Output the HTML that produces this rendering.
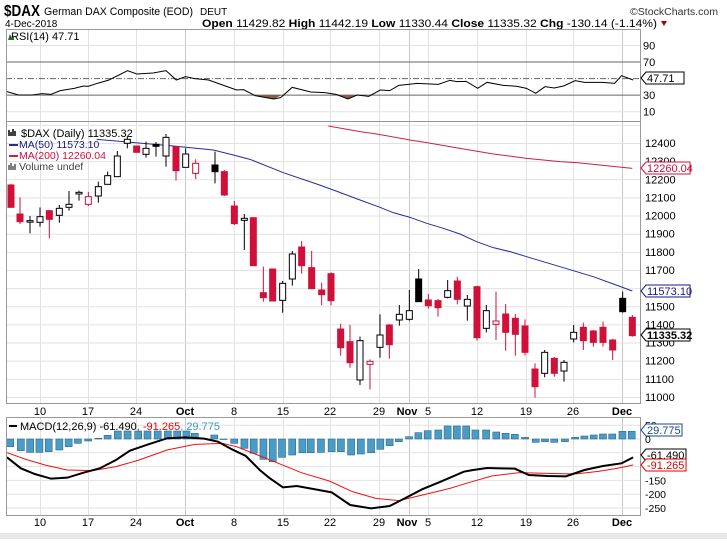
<!DOCTYPE html>
<html><head><meta charset="utf-8"><style>
body{margin:0;background:#fff;width:727px;height:539px;overflow:hidden;font-family:"Liberation Sans",sans-serif}
svg text{font-family:"Liberation Sans",sans-serif}
</style></head><body>
<svg id="s" width="727" height="539" xmlns="http://www.w3.org/2000/svg">
<rect x="0" y="533" width="727" height="6" fill="#e8e8e8"/>
<text x="4" y="16" font-size="16" font-weight="bold" textLength="36" lengthAdjust="spacingAndGlyphs">$DAX</text>
<text x="44" y="15" font-size="11" textLength="149" lengthAdjust="spacingAndGlyphs">German DAX Composite (EOD)</text>
<text x="200" y="15" font-size="10">DEUT</text>
<text x="630" y="15" font-size="10" fill="#333" textLength="88" lengthAdjust="spacingAndGlyphs">©StockCharts.com</text>
<text x="5" y="27" font-size="10">4-Dec-2018</text>
<text x="202" y="27" font-size="11" textLength="455" lengthAdjust="spacingAndGlyphs"><tspan font-weight="bold">Open</tspan> 11429.82 <tspan font-weight="bold">High</tspan> 11442.19 <tspan font-weight="bold">Low</tspan> 11330.44 <tspan font-weight="bold">Close</tspan> 11335.32 <tspan font-weight="bold">Chg</tspan> -130.14 (-1.14%)</text>
<path d="M661 21 l6 0 l-3 5z" fill="#a00"/>
<g id="g"></g>
</svg>
<script>
const NS="http://www.w3.org/2000/svg",g=document.getElementById('g');
function el(t,a,txt){const e=document.createElementNS(NS,t);for(const k in a)e.setAttribute(k,a[k]);if(txt!==undefined)e.textContent=txt;g.appendChild(e);return e;}
const L=6,R=640;
const dates=[[40,'10'],[88,'17'],[136,'24'],[185,'Oct',1],[234,'8'],[283,'15'],[330,'22'],[379,'29'],[409,'Nov',1],[428,'5'],[477,'12'],[526,'19'],[573,'26'],[622,'Dec',1]];
function vgrid(y1,y2){dates.forEach(d=>el('line',{x1:d[0]+.5,x2:d[0]+.5,y1:y1,y2:y2,stroke:d[2]?'#c8c8c8':'#e2e2e2'}));}
function xlabels(y){dates.forEach(d=>{let x=d[0];if(d[1]=='Nov')x=x-2;el('text',{x:x,y:y,'font-size':11,'text-anchor':'middle','font-weight':d[2]?'bold':'normal'},d[1]);});}
const rT=29,rB=121;const ry=v=>120-v*0.828;
vgrid(rT,rB);
[90,10].forEach(v=>el('line',{x1:L,x2:R,y1:ry(v),y2:ry(v),stroke:'#e2e2e2'}));
el('line',{x1:L,x2:R,y1:ry(70),y2:ry(70),stroke:'#666'});
el('line',{x1:L,x2:R,y1:ry(30),y2:ry(30),stroke:'#666'});
el('line',{x1:L,x2:R,y1:ry(50),y2:ry(50),stroke:'#666','stroke-dasharray':'6,2,1,2'});
const rsi=[[15,275],[40,285],[70,285],[90,281],[110,283],[130,272],[160,265],[180,258],[190,259],[210,250],[235,240],[275,212],[295,222],[330,219],[358,212],[380,240],[400,230],[420,236],[450,240],[480,255],[510,270],[525,269],[550,287],[590,297],[605,293],[630,262],[670,276],[700,278],[725,283],[750,297],[770,285],[795,289],[820,270],[840,272],[860,256],[900,250],[945,253],[970,241],[985,245],[1005,244],[1030,265],[1050,247],[1085,256],[1115,259],[1135,265],[1155,280],[1175,260],[1195,264],[1215,258],[1240,242],[1260,247],[1300,247],[1325,250],[1340,227],[1365,240]].map(p=>[p[0]/2.156,p[1]/3]);
el('path',{d:'M'+(545/2.156)+' 95 L'+(590/2.156)+' 99 L'+(608/2.156)+' 95Z M'+(723/2.156)+' 95 L'+(750/2.156)+' 99 L'+(772/2.156)+' 95Z',fill:'#8a5a50'});
el('polyline',{points:rsi.join(' '),fill:'none',stroke:'#000','stroke-width':1});
el('rect',{x:L+.5,y:rT+.5,width:R-L,height:rB-rT,fill:'none',stroke:'#999'});
el('text',{x:11,y:40,'font-size':11},'RSI(14) 47.71');
el('path',{d:'M8 40 l2-6 l2 4 l2-3 l0 5z',fill:'#2a6a2a'});
[[90,'90'],[70,'70'],[30,'30'],[10,'10']].forEach(a=>el('text',{x:643,y:ry(a[0])+4,'font-size':11},a[1]));
el('path',{d:'M641 78 l5-6 h38 v12 h-38z',fill:'#fff',stroke:'#000'});
el('text',{x:647,y:82,'font-size':11},'47.71');
const mT=121,mB=403;const py=p=>143+(12400-p)*0.1814;
vgrid(mT,mB);
for(let p=11000;p<=12500;p+=100){if(py(p)>mT&&py(p)<mB)el('line',{x1:L,x2:R,y1:py(p)+.5,y2:py(p)+.5,stroke:'#e2e2e2'});}
for(let p=11000;p<=12400;p+=100)el('text',{x:645,y:py(p)+4,'font-size':11},p);
const ma50=[[290,58],[520,78],[640,90],[700,105],[750,118],[850,158],[950,192],[1000,210],[1080,240]].map(p=>[p[0]/3,p[1]/3+120]).concat([[0,240],[60,262],[100,278],[150,292],[200,310],[250,325],[300,342],[350,365],[400,383],[450,395],[500,410],[550,425],[600,440],[650,455],[700,470],[760,492],[817,513]].map(p=>[360+p[0]/3,p[1]/3+120]));
el('polyline',{points:ma50.join(' '),fill:'none',stroke:'#2a2a9a','stroke-width':1});
const ma200=[[985,18],[1080,35]].map(p=>[p[0]/3,p[1]/3+120]).concat([[0,35],[50,42],[150,60],[200,68],[300,85],[400,102],[500,115],[600,125],[650,128],[817,145]].map(p=>[360+p[0]/3,p[1]/3+120]));
el('polyline',{points:ma200.join(' '),fill:'none',stroke:'#d0203a','stroke-width':1});
const c2=[[33,195,262,192,262,'r'],[60,282,305,232,312,'r'],[90,302,304,288,340,'w'],[120,290,307,262,320,'w'],[148,272,298,270,355,'r'],[178,265,286,255,308,'w'],[207,253,262,213,272,'w'],[237,217,222,212,242,'w'],[265,230,253,216,258,'h'],[295,200,228,185,248,'w'],[323,167,193,155,193,'w'],[352,108,170,93,170,'w'],[382,58,70,50,85,'w'],[410,78,97,78,97,'r'],[438,85,103,65,113,'w'],[468,73,79,66,110,'b'],[498,52,108,42,140,'w'],[528,80,152,80,182,'r'],[557,102,142,85,142,'w'],[587,130,160,118,177,'h'],[645,135,155,95,190,'b'],[673,155,225,150,228,'r'],[703,258,311,243,315,'r'],[733,295,301,282,390,'w'],[760,293,437,293,437,'r'],[790,518,533,440,545,'r'],[818,447,543,447,543,'r'],[848,490,541,483,578,'w'],[877,402,477,393,497,'w'],[905,381,437,363,461,'r'],[935,443,506,393,506,'r'],[965,510,524,488,556,'r'],[993,461,542,457,556,'r'],[1022,627,683,611,707,'r'],[1050,665,728,615,743,'r']].map(c=>[c[0]/3,c[1]/3+120,c[2]/3+120,c[3]/3+120,c[4]/3+120,c[5]]);
const c3=[[0,662,780,650,795,'w'],[30,724,733,718,808,'h'],[60,645,682,583,713,'w'],[88,615,674,612,716,'r'],[118,583,600,555,617,'w'],[148,572,598,510,602,'w'],[176,477,545,447,545,'b'],[205,540,557,522,566,'r'],[234,542,563,537,590,'r'],[263,512,532,480,535,'w'],[292,483,538,470,553,'r'],[322,538,558,525,602,'w'],[351,500,653,497,662,'r'],[379,572,625,555,637,'w'],[408,603,613,515,660,'h'],[437,582,637,552,692,'r'],[466,595,643,582,707,'r'],[495,618,697,598,706,'r'],[525,747,800,730,833,'r'],[554,697,760,690,772,'w'],[583,715,760,711,770,'r'],[612,727,753,720,785,'w'],[641,637,657,615,667,'w'],[670,622,662,608,690,'r'],[700,633,667,630,680,'r'],[729,622,667,605,680,'r'],[758,660,690,657,720,'r'],[788,535,575,515,578,'b'],[817,592,647,585,650,'r']].map(c=>[360+c[0]/3,c[1]/3+120,c[2]/3+120,c[3]/3+120,c[4]/3+120,c[5]]);
c2.concat(c3).forEach(c=>{const[x,bt,bb,wt,wb,t]=c;const col=(t=='r'||t=='h')?'#d0103a':'#000';
el('line',{x1:x,x2:x,y1:wt,y2:wb,stroke:col});
const fill=t=='r'?'#d0103a':t=='b'?'#000':'#fff';
el('rect',{x:x-3,y:bt,width:6,height:Math.max(1.5,bb-bt),fill:fill,stroke:col,'stroke-width':1});});
el('rect',{x:L+.5,y:mT+.5,width:R-L,height:mB-mT,fill:'none',stroke:'#999'});
el('text',{x:21,y:137,'font-size':11},'$DAX (Daily) 11335.32');
el('path',{d:'M9 136 v-6 M11 136 v-4 M13 136 v-7 M15 136 v-5',stroke:'#000','stroke-width':1.5});
el('line',{x1:9,x2:18,y1:145,y2:145,stroke:'#2a2a9a','stroke-width':2});
el('text',{x:19,y:148,'font-size':10.5,fill:'#1a1a8a'},'MA(50) 11573.10');
el('line',{x1:9,x2:18,y1:156,y2:156,stroke:'#d0203a','stroke-width':2});
el('text',{x:19,y:159,'font-size':10.5,fill:'#d0103a'},'MA(200) 12260.04');
el('path',{d:'M9 170 v-5 M11 170 v-7 M13 170 v-4 M15 170 v-6',stroke:'#555','stroke-width':1.5});
el('text',{x:19,y:170,'font-size':10.5,fill:'#444'},'Volume undef');
function tag(y,txt,col,bold,w){el('path',{d:`M641 ${y} l5-6 h${w} v12 h-${w}z`,fill:'#fff',stroke:col});el('text',{x:647,y:y+4,'font-size':11,fill:col,'font-weight':bold?'bold':'normal'},txt);}
tag(168,'12260.04','#d0103a',0,44);
tag(291,'11573.10','#1a1a8a',0,44);
tag(335,'11335.32','#000',1,44);
xlabels(415);
const aT=417,aB=515;
vgrid(aT,aB);
const my=v=>439-v*0.276;
[50,0,-50,-100,-150,-200,-250].forEach(v=>el('line',{x1:L,x2:R,y1:my(v),y2:my(v),stroke:'#e2e2e2'}));
const hist=[[22,140],[45,152],[65,157],[85,157],[105,155],[128,150],[148,140],[168,130],[190,123],[212,115],[232,106],[254,93],[275,93],[298,93],[318,93],[340,93],[362,93],[382,93],[402,93],[420,100],[440,116],[462,105],[482,117],[505,130],[527,145],[547,160],[568,178],[588,185],[608,172],[630,165],[652,158],[670,158],[692,157],[715,155],[735,155],[757,165],[778,162],[800,158],[820,148],[840,137],[860,125],[882,110],[902,98],[922,92],[945,90],[965,78],[985,78],[1005,78],[1025,90],[1048,90],[1070,96],[1090,100],[1110,103],[1132,112],[1155,127],[1175,125],[1195,127],[1218,125],[1240,112],[1260,108],[1280,105],[1300,102],[1320,102],[1342,94],[1362,94]];
hist.forEach(h=>{const x=h[0]/2.156,y=400+h[1]/3,b=439;el('rect',{x:x-3.5,y:Math.min(y,b),width:7,height:Math.max(.5,Math.abs(y-b)),fill:'#4a9cc6',stroke:'#2a6a8a','stroke-width':.6});});
const mac=[[15,172],[45,205],[75,222],[110,236],[145,233],[180,218],[215,205],[250,180],[280,152],[320,133],[360,115],[400,112],[440,116],[470,125],[500,148],[530,168],[560,210],[580,233],[610,262],[640,258],[680,268],[715,277],[755,315],[800,325],[840,318],[870,297],[910,268],[950,245],[1000,215],[1020,210],[1050,204],[1080,205],[1110,206],[1140,225],[1180,228],[1220,229],[1260,210],[1300,198],[1340,190],[1365,172]].map(p=>[p[0]/2.156,400+p[1]/3]);
const sig=[[15,158],[60,180],[100,196],[145,210],[200,212],[250,200],[300,180],[360,150],[420,133],[480,130],[510,140],[550,162],[600,190],[650,218],[710,243],[760,275],[810,295],[860,302],[920,282],[970,265],[1010,248],[1060,228],[1120,218],[1180,220],[1240,222],[1290,214],[1330,205],[1365,195]].map(p=>[p[0]/2.156,400+p[1]/3]);
el('polyline',{points:sig.join(' '),fill:'none',stroke:'#f01010','stroke-width':1});
el('polyline',{points:mac.join(' '),fill:'none',stroke:'#000','stroke-width':2});
el('rect',{x:L+.5,y:aT+.5,width:R-L,height:aB-aT,fill:'none',stroke:'#999'});
el('line',{x1:9,x2:17,y1:426,y2:426,stroke:'#000','stroke-width':2});
const t=el('text',{x:20,y:430,'font-size':11});
t.innerHTML='MACD(12,26,9) -61.490<tspan fill="#e00">, -91.265</tspan><tspan fill="#3a9ac8">, 29.775</tspan>';
[[50,'50'],[0,'0'],[-150,'-150'],[-200,'-200'],[-250,'-250']].forEach(a=>el('text',{x:645,y:my(a[0])+4,'font-size':10.5},a[1]));
tag(430,'29.775','#1a4a8a',0,36);
tag(455,'-61.490','#000',0,40);
tag(465,'-91.265','#e00000',0,40);
xlabels(526);
</script>
</body></html>
